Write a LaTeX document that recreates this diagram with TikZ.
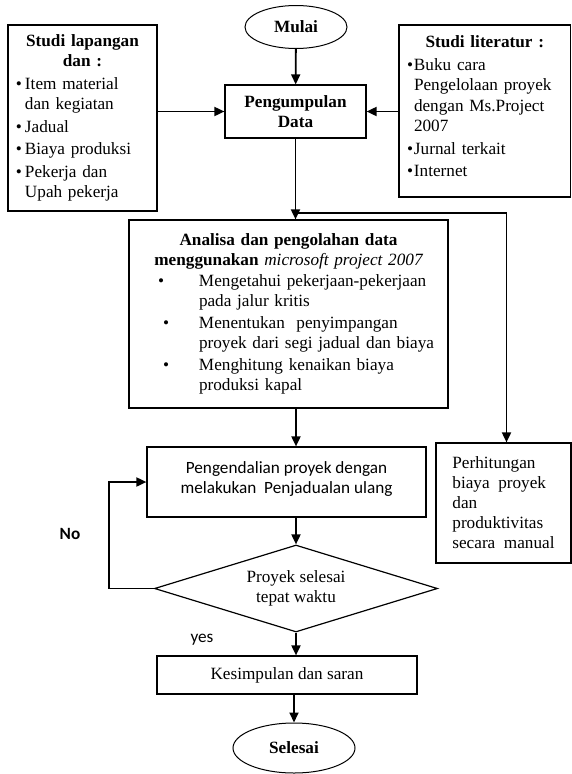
\documentclass[tikz,border=0pt]{standalone}
\usepackage{fontspec}
\setmainfont{Liberation Serif}
\newfontfamily\calibri{Carlito}
\usetikzlibrary{arrows.meta, positioning, shapes.geometric, calc}
\newcommand{\lbul}[1][8pt]{\makebox[#1][l]{\textbullet}}
\tikzset{
  every picture/.style={font=\fontsize{17.2}{20.5}\selectfont, line width=1.2pt},
  box/.style={draw, rectangle, inner sep=0pt},
  term/.style={draw, ellipse, inner sep=0pt, line width=1pt, font=\fontsize{17.2}{20.5}\selectfont\bfseries},
  decide/.style={draw, diamond, aspect=3.25, inner sep=0pt, align=center},
  arrow/.style={-{Triangle[length=10pt, width=9pt]}, line width=1.8pt},
  lbl/.style={font=\fontsize{17.2}{20.5}\selectfont\calibri},
}

\begin{document}
\begin{tikzpicture}[x=1pt, y=-1pt]
  \useasboundingbox (0,0) rectangle (572,774);

  \node[term, minimum width=102pt, minimum height=43pt] (mulai) at (296,27) {Mulai};
  \node[box, minimum width=141pt, minimum height=53pt, align=center, font=\fontsize{17.2}{20.5}\selectfont\bfseries] (kumpul) at (295.5,111.5) {Pengumpulan\\Data};

  \node[box, minimum width=149pt, minimum height=186pt, inner xsep=8pt, text width=133pt] (lapangan) at (82.5,118) {%
    {\centering\bfseries Studi lapangan\\dan :\par}\vspace{2pt}
    \raggedright
    \lbul[9pt]Item material\\
    \hspace*{9pt}dan kegiatan\\[2pt]
    \lbul[9pt]Jadual\\[2pt]
    \lbul[9pt]Biaya produksi\\[2pt]
    \lbul[9pt]Pekerja dan\\
    \hspace*{9pt}Upah pekerja};

  \node[box, minimum width=171.5pt, minimum height=172pt, inner xsep=8pt, text width=155.5pt] (literatur) at (484.75,111) {%
    {\centering\bfseries Studi literatur :\par}\vspace{2pt}
    \raggedright
    \lbul[7pt]Buku cara\\
    \hspace*{7pt}Pengelolaan proyek\\
    \hspace*{7pt}dengan Ms.Project\\
    \hspace*{7pt}2007\\[2pt]
    \lbul[7pt]Jurnal terkait\\[2pt]
    \lbul[7pt]Internet\rule[-9pt]{0pt}{0pt}};

  \node[box, minimum width=319pt, minimum height=188pt, inner xsep=8pt, text width=303pt] (analisa) at (288.5,314) {%
    {\centering\bfseries Analisa dan pengolahan data\\menggunakan {\mdseries\itshape microsoft project 2007}\par}
    \raggedright
    \hspace*{21pt}\lbul[41pt]Mengetahui pekerjaan-pekerjaan\\
    \hspace*{62pt}pada jalur kritis\\[1pt]
    \hspace*{26pt}\lbul[36pt]Menentukan\ \ penyimpangan\\
    \hspace*{62pt}proyek dari segi jadual dan biaya\\[1pt]
    \hspace*{26pt}\lbul[36pt]Menghitung kenaikan biaya\\
    \hspace*{62pt}produksi kapal};

  \node[box, minimum width=279pt, minimum height=70pt, align=center, lbl] (kendali) at (286.5,482) {Pengendalian proyek dengan\\melakukan\ \ Penjadualan ulang\rule[-9pt]{0pt}{0pt}};
  \node[box, minimum width=135pt, minimum height=120pt, align=left, font=\fontsize{17.2}{20}\selectfont] (hitung) at (503.5,503) {Perhitungan\\biaya\ \ proyek\\dan\\produktivitas\\secara\ \ manual};

  \node[decide, minimum width=283pt, minimum height=87pt] (selesaicek) at (296,588.5) {Proyek selesai\\tepat waktu};
  \node[box, minimum width=260pt, minimum height=38pt] (kesimpulan) at (287,675) {Kesimpulan dan saran};
  \node[term, minimum width=122pt, minimum height=50pt] (selesai) at (294,748) {Selesai};

  \node[lbl, font=\fontsize{17.2}{20.5}\selectfont\calibri\bfseries] (no) at (70,534) {No};
  \node[lbl] (yes) at (202,640) {yes};

  % alur utama
  \draw[arrow] (mulai) -- (kumpul);
  \draw[arrow] (lapangan.east |- kumpul.west) -- (kumpul.west);
  \draw[arrow] (literatur.west |- kumpul.east) -- (kumpul.east);
  \draw[arrow] (kumpul.south) -- (kumpul.south |- analisa.north);
  \coordinate (cabang) at ($(kumpul.south)+(0,74)$);
  \draw[arrow] (cabang) -| ([xshift=3pt]hitung.north);
  \draw[arrow] (analisa.south -| selesaicek.north) -- (kendali.north -| selesaicek.north);
  \draw[arrow] (kendali.south -| selesaicek.north) -- (selesaicek.north);
  \draw[arrow] (selesaicek.west) -- ++(-45,0) |- (kendali.west);
  \draw[arrow] (selesaicek.south) -- (selesaicek.south |- kesimpulan.north);
  \draw[arrow] (kesimpulan.south -| selesai.north) -- (selesai.north);
\end{tikzpicture}
\end{document}
